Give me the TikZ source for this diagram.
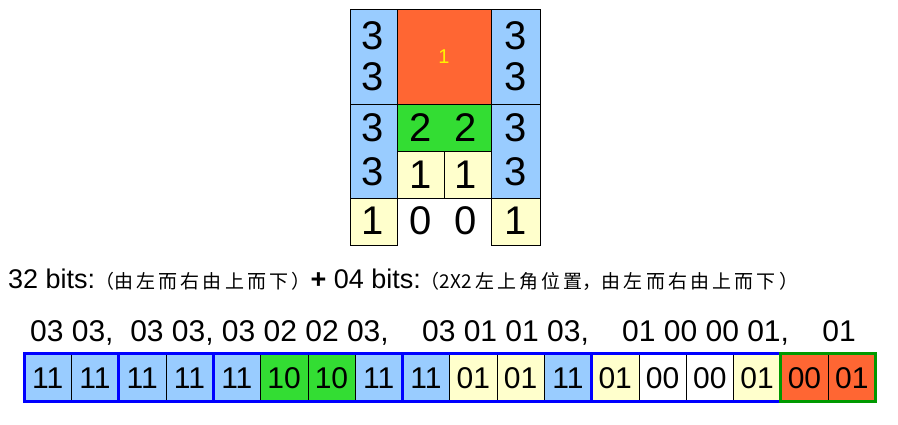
\documentclass[tikz,border=0pt]{standalone}
\usepackage{fontspec}
\setmainfont{Liberation Sans}
\newfontfamily\cjk{Noto Sans CJK SC}
\definecolor{lblue}{HTML}{99CCFF}
\definecolor{lyel}{HTML}{FFFFCC}
\definecolor{oran}{HTML}{FF6633}
\definecolor{grn}{HTML}{33DD33}
\definecolor{dgrn}{HTML}{009900}
\begin{document}
\begin{tikzpicture}[x=1pt,y=-1pt,
 cellg/.style={draw=black,line width=0.6pt},
 big/.style={font=\fontsize{40}{40}\selectfont,inner sep=0pt},
 bit/.style={font=\fontsize{30}{30}\selectfont,inner sep=0pt},
 grp/.style={draw=blue,line width=3pt}]
\useasboundingbox (0,0) rectangle (898,425);
% top grid
\fill[lblue] (350,9) rectangle (397,198);
\fill[lblue] (491,9) rectangle (540,198);
\fill[oran] (397,9) rectangle (491,104);
\fill[grn] (397,104) rectangle (491,151);
\fill[lyel] (397,151) rectangle (491,198);
\fill[lyel] (350,198) rectangle (397,245);
\fill[lyel] (491,198) rectangle (540,245);
\draw[cellg] (350,9) rectangle (397,104);
\draw[cellg] (350,104) rectangle (397,198);
\draw[cellg] (491,9) rectangle (540,104);
\draw[cellg] (491,104) rectangle (540,198);
\draw[cellg] (397,9) rectangle (491,104);
\draw[cellg] (397,104) rectangle (491,151);
\draw[cellg] (397,151) rectangle (444,198);
\draw[cellg] (444,151) rectangle (491,198);
\draw[cellg] (350,198) rectangle (397,245);
\draw[cellg] (491,198) rectangle (540,245);
\node[big] (a1) at (373,36) {3};
\node[big] (a2) at (373,77) {3};
\node[big] (a3) at (516,36) {3};
\node[big] (a4) at (516,77) {3};
\node[font=\fontsize{20}{20}\selectfont,text=yellow] (o1) at (444,57) {1};
\node[big] (b1) at (373,128) {3};
\node[big] (b2) at (373,172) {3};
\node[big] (b3) at (516,128) {3};
\node[big] (b4) at (516,172) {3};
\node[big] (g1) at (421,128) {2};
\node[big] (g2) at (466,128) {2};
\node[big] (y1) at (421,175) {1};
\node[big] (y2) at (466,175) {1};
\node[big] (c1) at (373,221) {1};
\node[big] (c2) at (421,221) {0};
\node[big] (c3) at (466,221) {0};
\node[big] (c4) at (516,221) {1};
% caption
\node[anchor=west,inner sep=0pt] (cap) at (8,280) {\fontsize{27}{27}\selectfont 32 bits:{\cjk\fontsize{19}{19}\selectfont （由\,左\,而\,右\,由\,上\,而\,下\,）}\textbf{+} 04 bits:{\cjk\fontsize{19}{19}\selectfont （2X2\,左\,上\,角\,位\,置，由\,左\,而\,右\,由\,上\,而\,下\,）}};
% labels row
\node[anchor=west,inner sep=0pt,font=\fontsize{30}{30}\selectfont] (lab) at (30,333) {03 03,\ \ 03 03,\ 03 02 02 03,\ \ \ \ 03 01 01 03,\ \ \ \ 01 00 00 01,\ \ \ \ 01};
% bit cells
\foreach \i/\c/\t in {0/lblue/11,1/lblue/11,2/lblue/11,3/lblue/11,4/lblue/11,5/grn/10,6/grn/10,7/lblue/11,8/lblue/11,9/lyel/01,10/lyel/01,11/lblue/11,12/lyel/01,13/white/00,14/white/00,15/lyel/01,16/oran/00,17/oran/01}{
 \draw[fill=\c,line width=0.6pt] ({24+\i*47.3},353) rectangle ({24+(\i+1)*47.3},401);
 \node[bit] (t\i) at ({24+(\i+0.5)*47.3},378) {\t};
}
\draw[grp] (24,353) rectangle (118.6,401);
\draw[grp] (118.6,353) rectangle (213.2,401);
\draw[grp] (213.2,353) rectangle (402.4,401);
\draw[grp] (402.4,353) rectangle (591.6,401);
\draw[grp] (591.6,353) rectangle (780.8,401);
\draw[draw=dgrn,line width=3pt] (780.8,353) rectangle (875.4,401);
\end{tikzpicture}
\end{document}
